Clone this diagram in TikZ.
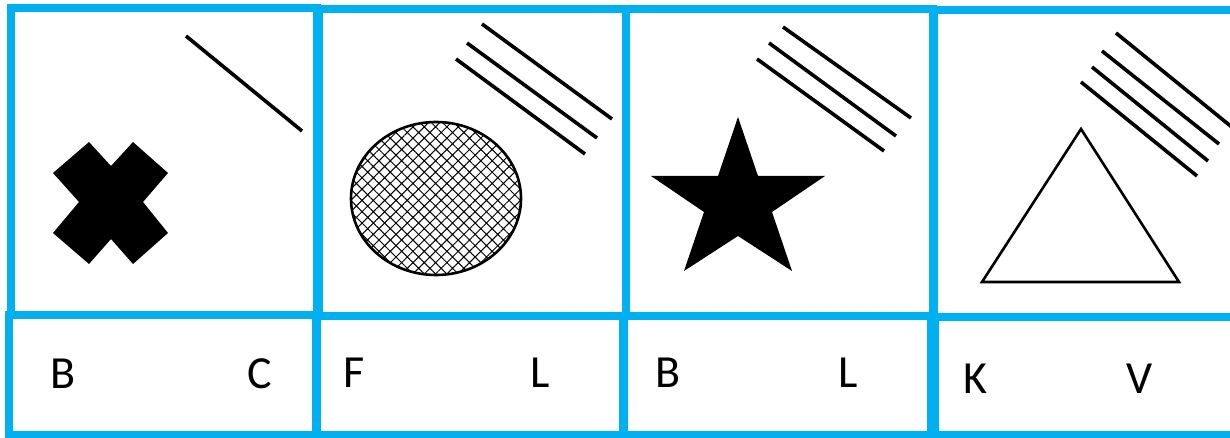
\documentclass[tikz,border=0pt]{standalone}
\usepackage{fontspec}
\setmainfont{Carlito}
\usepackage{xcolor}
\definecolor{cFrame}{HTML}{00B0F0}
\definecolor{cInk}{HTML}{000000}
\usepackage{tikz}
\usetikzlibrary{patterns.meta}
\tikzset{
  panel-box/.style={draw=cFrame,line width=7.5pt},
  ray-line/.style={draw=cInk,line width=3.6pt},
  shape-solid/.style={fill=cInk,draw=none},
  shape-open/.style={draw=cInk,line width=2.6pt,line join=miter},
  shape-hatch/.style={pattern={Hatch[angle=45,distance=8pt,line width=1pt]},
    pattern color=cInk},
  label-text/.style={font=\fontsize{46}{50}\selectfont,inner sep=0pt,anchor=base},
}

\begin{document}
\begin{tikzpicture}[x=1pt,y=-1pt]
  \clip (0,0) rectangle (1230,438);
  % frames: picture cell on top, letter cell below
  \draw[panel-box] (11,8) rectangle (317,315);
  \draw[panel-box] (9,315) rectangle (316,435);
  \draw[panel-box] (319,9) rectangle (626,316);
  \draw[panel-box] (317,316) rectangle (623,435);
  \draw[panel-box] (626,9) rectangle (933,316);
  \draw[panel-box] (624,316) rectangle (931,435);
  \draw[panel-box] (934,10) rectangle (1245,317);
  \draw[panel-box] (935,317) rectangle (1245,435);

  % panel 1: cross, one line
  \draw[ray-line] (186,36) -- (302,131);
  \fill[shape-solid] (89,142) -- (111,166) -- (133,142) -- (168,173)
    -- (143,202) -- (168,233) -- (133,264) -- (111,239) -- (89,264)
    -- (53,233) -- (79,202) -- (53,173) -- cycle;
  \node[label-text] (l1a) at (63,388) {B};
  \node[label-text] (l1b) at (260,388) {C};

  % panel 2: hatched ellipse, three lines
  \draw[ray-line] (482,24) -- (612,119);
  \draw[ray-line] (467,43) -- (597,138);
  \draw[ray-line] (456,59) -- (585,154);
  \draw[shape-open,shape-hatch] (436,198.5) ellipse [x radius=85pt,y radius=76.5pt];
  \node[label-text] (l2a) at (354.5,387) {F};
  \node[label-text] (l2b) at (540,387) {L};

  % panel 3: star, three lines
  \draw[ray-line] (783,27) -- (911,118);
  \draw[ray-line] (769,43) -- (896,136);
  \draw[ray-line] (757,59) -- (884,151);
  \fill[shape-solid] (738,117) -- (758,176) -- (825,176) -- (772,212)
    -- (792,271) -- (738,236) -- (684,271) -- (704,212) -- (651,176)
    -- (718,176) -- cycle;
  \node[label-text] (l3a) at (667.5,387) {B};
  \node[label-text] (l3b) at (848,387) {L};

  % panel 4: open triangle, four lines
  \draw[ray-line] (1116,33) -- (1233,128);
  \draw[ray-line] (1102,51) -- (1219,144);
  \draw[ray-line] (1092,67) -- (1208,161);
  \draw[ray-line] (1081,82) -- (1197,176);
  \draw[shape-open] (1081,129) -- (1179,282) -- (982,282) -- cycle;
  \node[label-text] (l4a) at (975,393) {K};
  \node[label-text] (l4b) at (1139.5,393) {V};
\end{tikzpicture}
\end{document}
